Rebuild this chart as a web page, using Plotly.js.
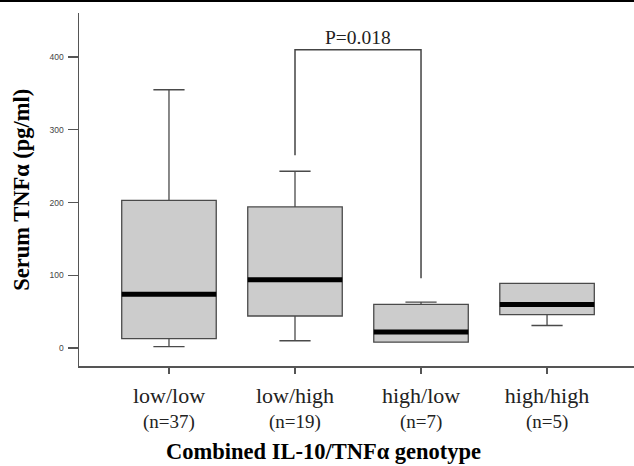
<!DOCTYPE html>
<html>
<head>
<meta charset="utf-8">
<script src="https://cdn.plot.ly/plotly-3.0.1.min.js"></script>
<style>
  html, body { margin: 0; padding: 0; background: #fff; }
  #topline { width: 634px; height: 2px; background: #000; }
  #chart { width: 634px; height: 464px; }
</style>
</head>
<body>
<div id="topline"></div>
<div id="chart"></div>
<script>
// ---- data ----
var categories = ["low/low", "low/high", "high/low", "high/high"];
var groupN = [37, 19, 7, 5];
var positions = [0, 1, 2, 3];
var lowerFence = [2, 10, 8, 31];
var q1Values = [13, 44, 8, 46];
var medianValues = [74, 94, 22, 60];
var q3Values = [203, 194, 60, 89];
var upperFence = [355, 243, 63, 89];
var yTickVals = [0, 100, 200, 300, 400];
// significance bracket between low/high and high/low
var bracketX = [1, 1, 2, 2];
var bracketY = [265, 410, 410, 96];
var pLabel = "P=0.018";

var boxWidth = 0.75;

// median bars as thick lines
var medX = [], medY = [];
positions.forEach(function (p, i) {
  medX.push(p - boxWidth / 2, p + boxWidth / 2, null);
  medY.push(medianValues[i], medianValues[i], null);
});

var traces = [
  {
    type: "box",
    x: positions,
    q1: q1Values,
    median: medianValues,
    q3: q3Values,
    lowerfence: lowerFence,
    upperfence: upperFence,
    width: boxWidth,
    whiskerwidth: 0.33,
    fillcolor: "#cccccc",
    line: { color: "#4a4a4a", width: 1.3 },
    boxpoints: false,
    hoverinfo: "skip",
    showlegend: false
  },
  {
    type: "scatter",
    mode: "lines",
    x: medX,
    y: medY,
    line: { color: "#000000", width: 5 },
    hoverinfo: "skip",
    showlegend: false
  },
  {
    type: "scatter",
    mode: "lines",
    x: bracketX,
    y: bracketY,
    line: { color: "#444444", width: 1.5 },
    hoverinfo: "skip",
    showlegend: false
  }
];

var serif = "Liberation Serif, Times New Roman, serif";

var annotations = [
  {
    text: "<b>Serum TNFα (pg/ml)</b>",
    textangle: -90,
    xref: "paper", yref: "paper",
    x: -0.104, y: 0.5,
    xanchor: "center", yanchor: "middle",
    showarrow: false,
    font: { family: serif, size: 22.5, color: "#000000" }
  },
  {
    text: "<b>Combined IL-10/TNFα genotype</b>",
    xref: "paper", yref: "paper",
    x: 0.44, y: -0.243,
    xanchor: "center", yanchor: "middle",
    showarrow: false,
    font: { family: serif, size: 22.5, color: "#000000" }
  },
  {
    text: pLabel,
    xref: "x", yref: "y",
    x: (bracketX[1] + bracketX[2]) / 2, y: bracketY[1],
    xanchor: "center", yanchor: "bottom",
    showarrow: false,
    font: { family: serif, size: 19.5, color: "#222222" }
  }
];
// group sizes under the category labels
positions.forEach(function (p, i) {
  annotations.push({
    text: "(n=" + groupN[i] + ")",
    xref: "x", yref: "paper",
    x: p, y: -0.16,
    xanchor: "center", yanchor: "middle",
    showarrow: false,
    font: { family: serif, size: 19, color: "#222222" }
  });
});

var layout = {
  width: 634,
  height: 464,
  margin: { l: 79, r: 0, t: 11, b: 100 },
  paper_bgcolor: "#ffffff",
  plot_bgcolor: "#ffffff",
  showlegend: false,
  xaxis: {
    range: [-0.714, 3.69],
    tickvals: positions,
    ticktext: categories,
    ticks: "outside",
    ticklen: 6,
    tickwidth: 1.3,
    tickcolor: "#555555",
    showline: true,
    linecolor: "#555555",
    linewidth: 1.5,
    showgrid: false,
    zeroline: false,
    ticklabelstandoff: 3,
    tickfont: { family: serif, size: 22, color: "#222222" }
  },
  yaxis: {
    range: [-24.7, 460.5],
    tickvals: yTickVals,
    ticks: "outside",
    ticklen: 10,
    tickwidth: 1.3,
    tickcolor: "#555555",
    showline: true,
    linecolor: "#555555",
    linewidth: 1.5,
    showgrid: false,
    zeroline: false,
    ticklabelstandoff: 2,
    tickfont: { family: "Liberation Sans, Arial, sans-serif", size: 8.5, color: "#444444" }
  },
  annotations: annotations
};

Plotly.newPlot("chart", traces, layout, { displayModeBar: false, staticPlot: true });
</script>
</body>
</html>
